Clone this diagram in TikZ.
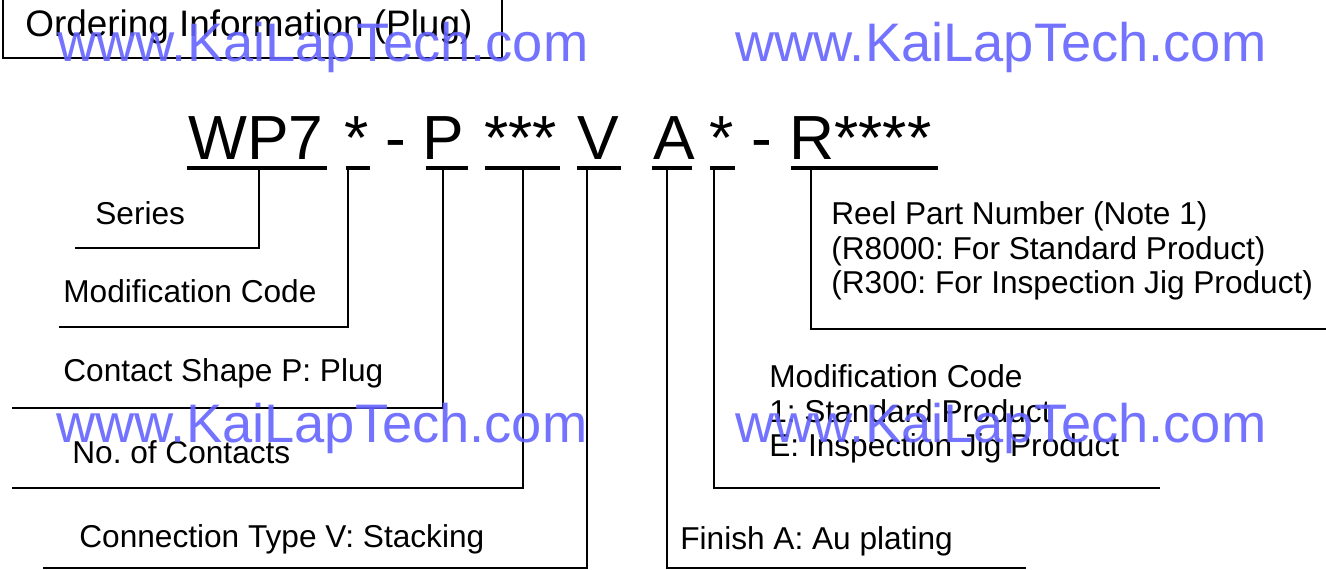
\documentclass[tikz,border=0pt]{standalone}
\usepackage{fontspec}
\setmainfont{Liberation Sans}
\definecolor{wmblue}{RGB}{100,100,255}
\frenchspacing
\begin{document}
\begin{tikzpicture}[
  x=0.02cm, y=-0.02cm,
  code/.style={anchor=base west, inner sep=0, font=\fontsize{35.5}{40}\selectfont},
  lbl/.style={anchor=base west, inner sep=0, align=left, font=\fontsize{18}{19.9}\selectfont},
  uline/.style={line width=2.2pt},
  lead/.style={line width=1.6pt},
  wmark/.style={anchor=base west, inner sep=0, text=wmblue, text opacity=0.9, font=\fontsize{30.9}{34}\selectfont}
]
\useasboundingbox (0,0) rectangle (1326,570);
% title
\draw[line width=1.1pt] (3,-10) rectangle (502,58);
\node[anchor=base west, inner sep=0, font=\fontsize{21}{24}\selectfont] (title) at (25,37) {Ordering Information (Plug)};
% part number
\node[code] (wp) at (188,160) {WP7};
\node[code] (mod) at (344,160) {*};
\node[code] (dasha) at (385,160) {-};
\node[code] (shape) at (422,160) {P};
\node[code] (num) at (484,160) {***};
\node[code] (conn) at (577,160) {V};
\node[code] (fin) at (653,160) {A};
\node[code] (modb) at (709,160) {*};
\node[code] (dashb) at (751,160) {-};
\node[code] (reel) at (789,160) {R****};
\draw[uline] (187,168) -- (327,168);
\draw[uline] (346,168) -- (370,168);
\draw[uline] (426,168) -- (468,168);
\draw[uline] (485,168) -- (560,168);
\draw[uline] (577,168) -- (621,168);
\draw[uline] (652,168) -- (692,168);
\draw[uline] (710,168) -- (735,168);
\draw[uline] (791,168) -- (938,168);
% labels (multi-line ones sit on their last baseline)
\node[lbl] (series-l) at (95,225) {Series};
\node[lbl] (mod-l) at (63,303) {Modification Code};
\node[lbl] (shape-l) at (63,382) {Contact Shape P: Plug};
\node[lbl] (num-l) at (72,464) {No. of Contacts};
\node[lbl] (conn-l) at (79,548) {Connection Type V: Stacking};
\node[lbl] (fin-l) at (680,550) {Finish A: Au plating};
\node[lbl] (modb-l) at (769,457) {Modification Code\\1: Standard Product\\E: Inspection Jig Product};
\node[lbl] (reel-l) at (831,294) {Reel Part Number (Note 1)\\(R8000: For Standard Product)\\(R300: For Inspection Jig Product)};
% tap points and line ends
\coordinate (t-series) at (259,168);
\coordinate (t-mod) at (348,168);
\coordinate (t-shape) at (443,168);
\coordinate (t-num) at (523,168);
\coordinate (t-conn) at (587,168);
\coordinate (t-fin) at (667,168);
\coordinate (t-modb) at (714,168);
\coordinate (t-reel) at (811,168);
\coordinate (e-series) at (75,248);
\coordinate (e-mod) at (59,327);
\coordinate (e-shape) at (12,408);
\coordinate (e-num) at (12,488);
\coordinate (e-conn) at (43,568);
\coordinate (e-fin) at (1026,568);
\coordinate (e-modb) at (1160,488);
\coordinate (e-reel) at (1326,329);
\draw[lead] (t-series) |- (e-series);
\draw[lead] (t-mod) |- (e-mod);
\draw[lead] (t-shape) |- (e-shape);
\draw[lead] (t-num) |- (e-num);
\draw[lead] (t-conn) |- (e-conn);
\draw[lead] (t-fin) |- (e-fin);
\draw[lead] (t-modb) |- (e-modb);
\draw[lead] (t-reel) |- (e-reel);
% watermark
\node[wmark] (wm-a) at (57,62) {www.KaiLapTech.com};
\node[wmark] (wm-b) at (735,62) {www.KaiLapTech.com};
\node[wmark] (wm-c) at (56,443) {www.KaiLapTech.com};
\node[wmark] (wm-d) at (735,443) {www.KaiLapTech.com};
\end{tikzpicture}
\end{document}
